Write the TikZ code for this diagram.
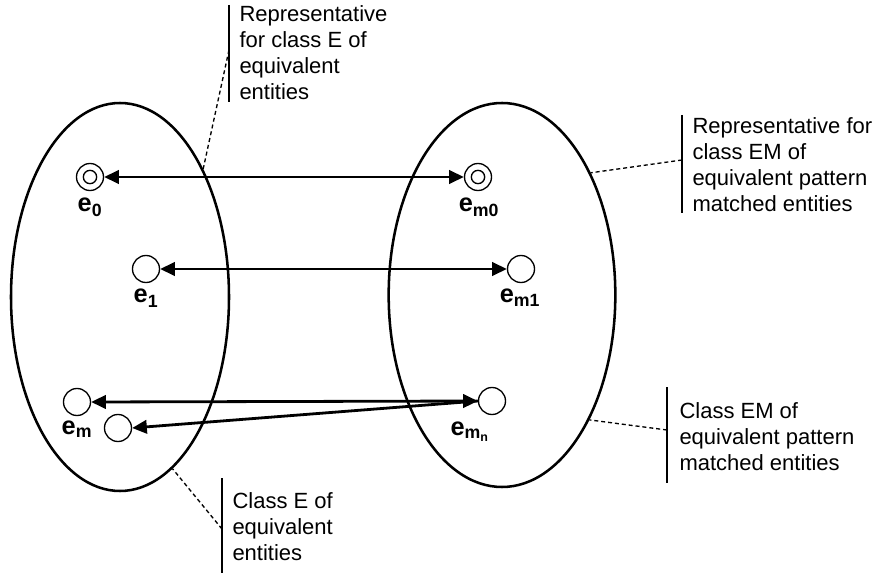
\documentclass[tikz,border=0pt]{standalone}
\usepackage{fontspec}
\setmainfont{Liberation Sans}
\usetikzlibrary{arrows.meta,shapes.geometric}

\tikzset{every picture/.style={line width=0.75pt}}
\tikzset{
  classset/.style={draw, ellipse, line width=1.9pt, inner sep=0pt},
  ent/.style={draw, circle, minimum size=20.25pt, inner sep=0pt, line width=1pt},
  rep/.style={ent, path picture={\draw [line width=1pt] (path picture bounding box.center) circle (5pt);}},
  maps/.style={line width=2.1pt, {Triangle[length=11pt,width=10pt]}-{Triangle[length=11pt,width=10pt]}},
  mapsto/.style={line width=2.1pt, -{Triangle[length=11pt,width=10pt]}},
  lbl/.style={font=\bfseries\fontsize{19}{21}\selectfont, inner sep=0pt, anchor=base},
  note/.style={align=left, font=\fontsize{16.5}{19.6}\selectfont, inner sep=0pt, anchor=north west},
  bar/.style={line width=1pt},
  lead/.style={line width=1pt, dash pattern=on 3pt off 2.2pt}
}

\begin{document}
\begin{tikzpicture}[x=0.75pt,y=0.75pt,yscale=-1,xscale=1]
\useasboundingbox (0,0) rectangle (877,573);

%Ellipses
\node [classset, minimum width=163.5pt, minimum height=291pt] (classE) at (120,297) {};
\node [classset, minimum width=170pt, minimum height=288pt] (classEM) at (502,295) {};

%Entities
\node [rep] (e0) at (90,177) {};
\node [ent] (e1) at (146,269) {};
\node [ent] (em) at (77,402) {};
\node [ent] (emb) at (118,428) {};
\node [rep] (em0) at (478,177) {};
\node [ent] (em1) at (521,269) {};
\node [ent] (emn) at (492,401) {};

% Text Node
\node [lbl] (le0) at (90,212) {e\textsubscript{0}};
\node [lbl] (le1) at (146,303) {e\textsubscript{1}};
\node [lbl] (lem) at (77,434) {e\textsubscript{m}};
\node [lbl] (lem0) at (479,212) {e\textsubscript{m0}};
\node [lbl] (lem1) at (520,302) {e\textsubscript{m1}};
\node [lbl] (lemn) at (470,435) {e\textsubscript{m\textsubscript{n}}};

%Straight Lines
\draw [maps] (e0.east) -- (em0.west);
\draw [maps] (e1.east) -- (em1.west);
\draw [maps] (em.east) -- (emn.west);
\draw [mapsto] (emn.west) -- (emb.east);

% Text Node
\node [note] (repE) at (239,5) {Representative\\for class E of\\equivalent\\entities};
\node [note] (repEM) at (692,117) {Representative for\\class EM of\\equivalent pattern\\matched entities};
\node [note] (setEM) at (679,402) {Class EM of\\equivalent pattern\\matched entities};
\node [note] (setE) at (232,492) {Class E of\\equivalent\\entities};

%Straight Lines
\draw [bar] (229,5) -- (229,102);
\draw [bar] (682,115) -- (682,213);
\draw [bar] (667,387) -- (667,483);
\draw [bar] (222,478) -- (222,573);

\coordinate (tRepE) at (229,50);
\coordinate (tRepEM) at (682,160);
\coordinate (tSetEM) at (667,430);
\coordinate (tSetE) at (222,529);
\draw [lead] (tRepE) -- (classE.57);
\draw [lead] (tRepEM) -- (classEM.54);
\draw [lead] (tSetEM) -- (classEM.-55);
\draw [lead] (tSetE) -- (classE.-73);
\end{tikzpicture}
\end{document}
